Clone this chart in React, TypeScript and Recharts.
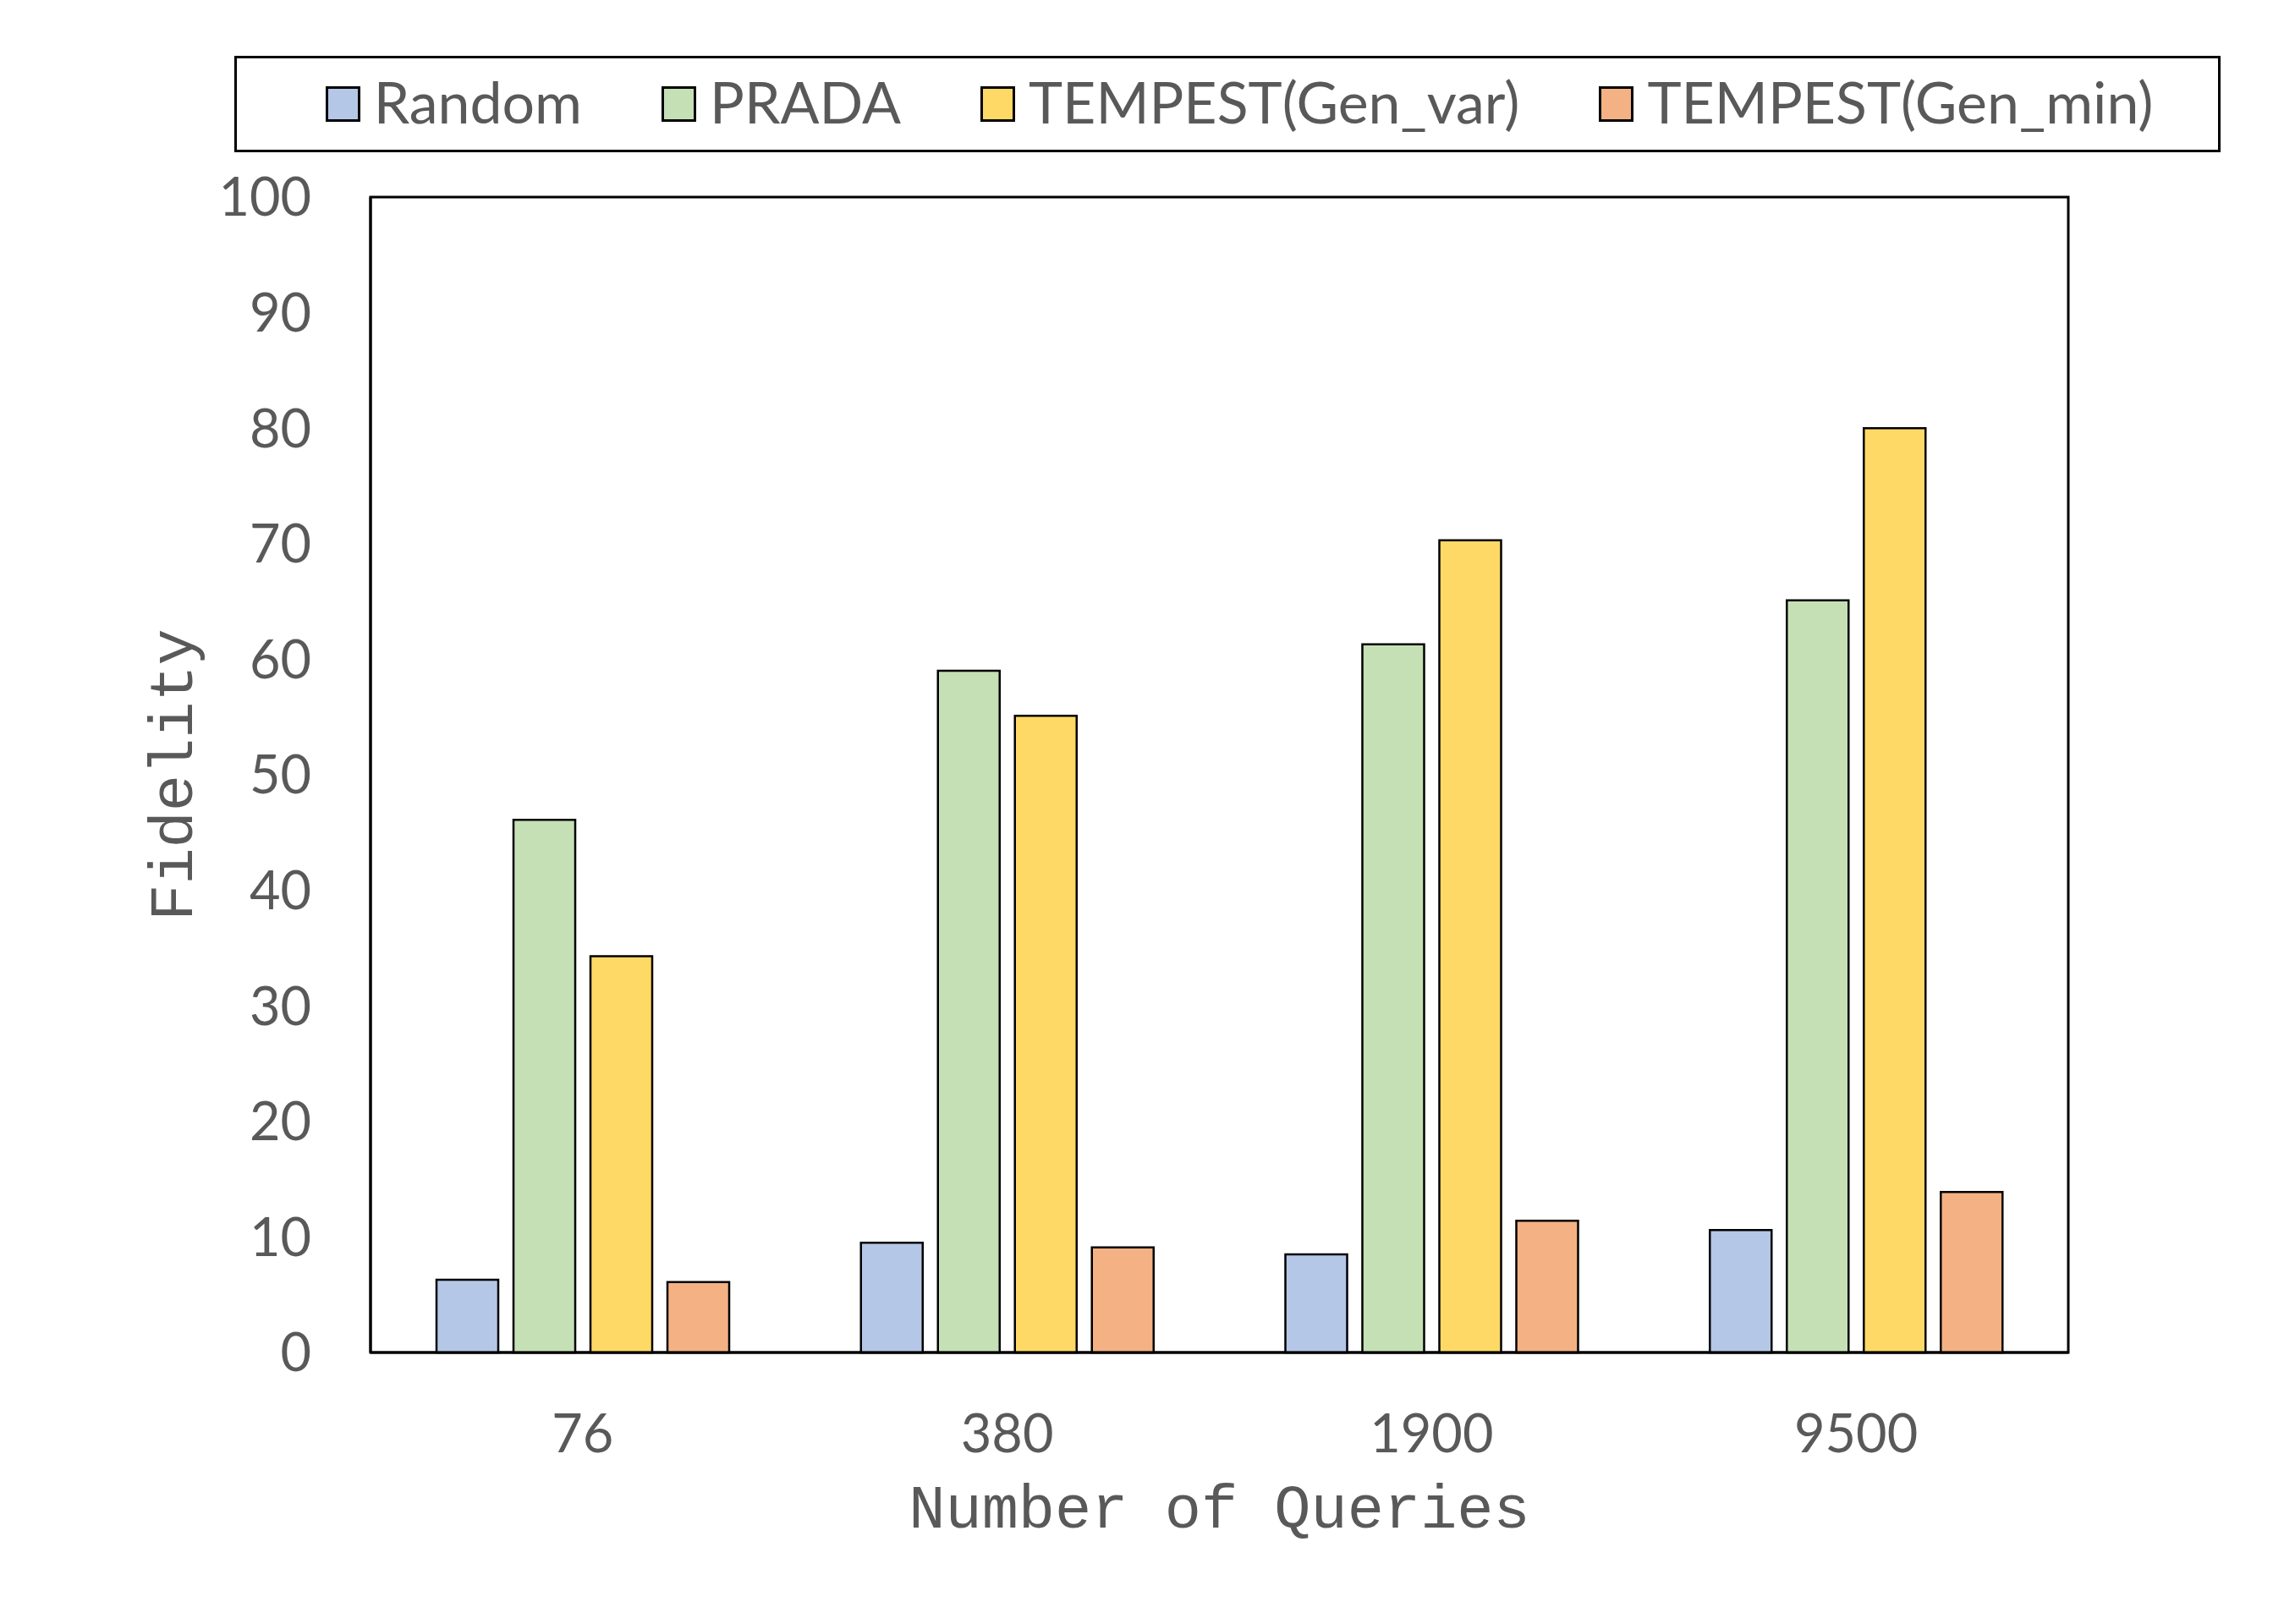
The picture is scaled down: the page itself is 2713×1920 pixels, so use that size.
import React from 'react';
import { BarChart, Bar, XAxis, YAxis, Legend, ReferenceArea } from 'recharts';

const categories = ['76', '380', '1900', '9500'];
const randomVals = [6.3, 9.5, 8.5, 10.6];
const pradaVals = [46.1, 59.0, 61.3, 65.1];
const genVarVals = [34.3, 55.1, 70.3, 80.0];
const genMinVals = [6.1, 9.1, 11.4, 13.9];
const yTicks = [0, 10, 20, 30, 40, 50, 60, 70, 80, 90, 100];

const seriesNames = ['Random', 'PRADA', 'TEMPEST(Gen_var)', 'TEMPEST(Gen_min)'];
const seriesKeys = ['random', 'prada', 'genVar', 'genMin'];
const seriesColors = ['#B4C7E7', '#C5E0B4', '#FFD966', '#F4B183'];

const data = categories.map((c, i) => ({
  cat: c,
  random: randomVals[i],
  prada: pradaVals[i],
  genVar: genVarVals[i],
  genMin: genMinVals[i],
}));

const TEXT = '#595959';
const SANS = 'Lato, "Noto Sans", sans-serif';
const MONO = '"Liberation Mono", "DejaVu Sans Mono", monospace';

const LegendContent = () => (
  <div
    style={{
      boxSizing: 'border-box',
      width: 2348,
      height: 114,
      border: '3px solid #000',
      display: 'flex',
      alignItems: 'center',
      justifyContent: 'center',
      gap: 94,
      paddingLeft: 28,
      fontFamily: SANS,
      fontSize: 68,
      color: TEXT,
      background: '#fff',
    }}
  >
    {seriesNames.map((n, i) => (
      <div key={n} style={{ display: 'flex', alignItems: 'center' }}>
        <div
          style={{
            boxSizing: 'border-box',
            width: 41,
            height: 42,
            background: seriesColors[i],
            border: '3px solid #000',
            marginRight: 16,
          }}
        />
        <span style={{ lineHeight: 1, marginTop: -6 }}>{n}</span>
      </div>
    ))}
  </div>
);

const YLabel = (props: any) => {
  const vb = props.viewBox || {};
  const cy = vb.y + vb.height / 2;
  const x = 219;
  return (
    <text
      x={x}
      y={cy}
      transform={`rotate(-90, ${x}, ${cy})`}
      textAnchor="middle"
      fontFamily={MONO}
      fontSize={72}
      fill={TEXT}
    >
      Fidelity
    </text>
  );
};

const XLabel = (props: any) => {
  const vb = props.viewBox || {};
  const cx = vb.x + vb.width / 2;
  return (
    <text x={cx} y={1798} textAnchor="middle" fontFamily={MONO} fontSize={72} fill={TEXT}>
      Number of Queries
    </text>
  );
};

export default function App() {
  return (
    <BarChart
      width={2705}
      height={1912}
      data={data}
      margin={{ top: 225, right: 268, bottom: 121, left: 0 }}
      barSize={73}
      barGap={18}
    >
      <XAxis
        dataKey="cat"
        height={200}
        tickLine={false}
        tickSize={0}
        tickMargin={73}
        axisLine={{ stroke: '#000', strokeWidth: 3 }}
        tick={{ fill: TEXT, fontSize: 63, fontFamily: SANS }}
        label={<XLabel />}
      />
      <YAxis
        width={430}
        domain={[0, 100]}
        ticks={yTicks}
        interval={0}
        tickLine={false}
        tickSize={0}
        tickMargin={70}
        axisLine={{ stroke: '#000', strokeWidth: 3 }}
        tick={{ fill: TEXT, fontSize: 63, fontFamily: SANS }}
        label={<YLabel />}
      />
      <ReferenceArea
        y1={0}
        y2={100}
        fill="none"
        fillOpacity={0}
        stroke="#000"
        strokeWidth={3}
        ifOverflow="visible"
      />
      <Legend
        verticalAlign="middle"
        align="center"
        content={<LegendContent />}
        wrapperStyle={{ position: 'absolute', top: 58, left: 269, width: 2348, height: 114 }}
      />
      {seriesKeys.map((k, i) => (
        <Bar
          key={k}
          dataKey={k}
          name={seriesNames[i]}
          fill={seriesColors[i]}
          stroke="#000"
          strokeWidth={2.5}
          isAnimationActive={false}
        />
      ))}
    </BarChart>
  );
}
